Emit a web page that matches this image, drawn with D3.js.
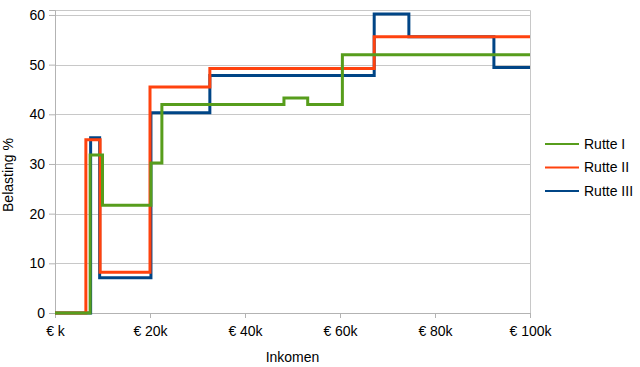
<!DOCTYPE html>
<meta charset="utf-8">
<style>
body { margin: 0; background: #fff; }
text { font-family: "Liberation Sans", Arial, sans-serif; fill: #000; }
</style>
<svg width="640" height="367"></svg>
<script src="https://cdn.jsdelivr.net/npm/d3@7"></script>
<script>

// income breakpoints (x 1000 euro) and tax burden (%) per cabinet, step-after
var rutte1Income = [0, 7.4, 10, 20.2, 22.5, 48.2, 53.2, 60.5, 100],
    rutte1Rate   = [0, 31.8, 21.7, 30.2, 42, 43.3, 42, 52, 52];
var rutte2Income = [0, 6.5, 9.5, 20, 32.6, 67.2, 100],
    rutte2Rate   = [0, 34.9, 8.2, 45.5, 49.2, 55.6, 55.6];
var rutte3Income = [0, 7.5, 9.4, 20.2, 32.6, 67.2, 74.5, 92.4, 100],
    rutte3Rate   = [0, 35.3, 7.1, 40.3, 47.8, 60.2, 55.6, 49.4, 49.4];

var seriesNames = ["Rutte I", "Rutte II", "Rutte III"];
var xTicks = [0, 20, 40, 60, 80, 100];
var yTicks = [0, 10, 20, 30, 40, 50, 60];

var series = [
  { name: seriesNames[0], color: "#579d1c", xs: rutte1Income, ys: rutte1Rate },
  { name: seriesNames[1], color: "#ff420e", xs: rutte2Income, ys: rutte2Rate },
  { name: seriesNames[2], color: "#004586", xs: rutte3Income, ys: rutte3Rate }
];

var svg = d3.select("svg"),
    plot = {left: 55, right: 530, top: 10, bottom: 313};

var x = d3.scaleLinear().domain([0, 100]).range([plot.left, plot.right]);
var y = d3.scaleLinear().domain([0, 61]).range([plot.bottom, plot.top]);

// grid lines
svg.append("g").selectAll("line")
  .data(yTicks.slice(1))
  .enter().append("line")
    .attr("x1", plot.left).attr("x2", plot.right)
    .attr("y1", function(d) { return Math.round(y(d)) + 0.5; })
    .attr("y2", function(d) { return Math.round(y(d)) + 0.5; })
    .attr("stroke", "#c8c8c8").attr("stroke-width", 1);

// plot frame top & right
svg.append("path")
    .attr("d", "M" + plot.left + "," + (plot.top + 0.5) + "H" + (plot.right + 0.5) + "V" + plot.bottom)
    .attr("fill", "none").attr("stroke", "#c8c8c8");

var xAxis = svg.append("g")
    .attr("transform", "translate(0," + plot.bottom + ")")
    .call(d3.axisBottom(x).tickValues(xTicks).tickSize(5).tickPadding(8)
      .tickFormat(function(d) { return d === 0 ? "\u20ac k" : "\u20ac " + d + "k"; }));

var yAxis = svg.append("g")
    .attr("transform", "translate(" + plot.left + ",0)")
    .call(d3.axisLeft(y).tickValues(yTicks).tickSize(6).tickPadding(4));

[xAxis, yAxis].forEach(function(a) {
  a.select(".domain").attr("stroke", "#b3b3b3");
  a.selectAll(".tick line").attr("stroke", "#b3b3b3");
  a.selectAll("text").style("font-size", "14px").attr("fill", "#000")
    .style("font-family", "'Liberation Sans', Arial, sans-serif");
});

var line = d3.line()
    .x(function(d) { return x(d[0]); })
    .y(function(d) { return y(d[1]); })
    .curve(d3.curveStepAfter);

// draw in reverse so Rutte I sits on top
series.slice().reverse().forEach(function(s) {
  svg.append("path")
      .datum(d3.zip(s.xs, s.ys))
      .attr("fill", "none")
      .attr("stroke", s.color)
      .attr("stroke-width", 3)
      .attr("d", line);
});

// axis titles
svg.append("text")
    .attr("x", (plot.left + plot.right) / 2)
    .attr("y", 362)
    .attr("text-anchor", "middle")
    .style("font-size", "14px")
    .text("Inkomen");

svg.append("text")
    .attr("transform", "translate(13,175) rotate(-90)")
    .attr("text-anchor", "middle")
    .style("font-size", "14px")
    .text("Belasting %");

// legend
var legend = svg.append("g").selectAll("g")
    .data(series)
    .enter().append("g")
    .attr("transform", function(d, i) { return "translate(545," + (144 + i * 23.5) + ")"; });

legend.append("line")
    .attr("x1", 0).attr("x2", 34)
    .attr("stroke", function(d) { return d.color; })
    .attr("stroke-width", 2);

legend.append("text")
    .attr("x", 39)
    .attr("dy", "0.35em")
    .style("font-size", "14px")
    .text(function(d) { return d.name; });

</script>
